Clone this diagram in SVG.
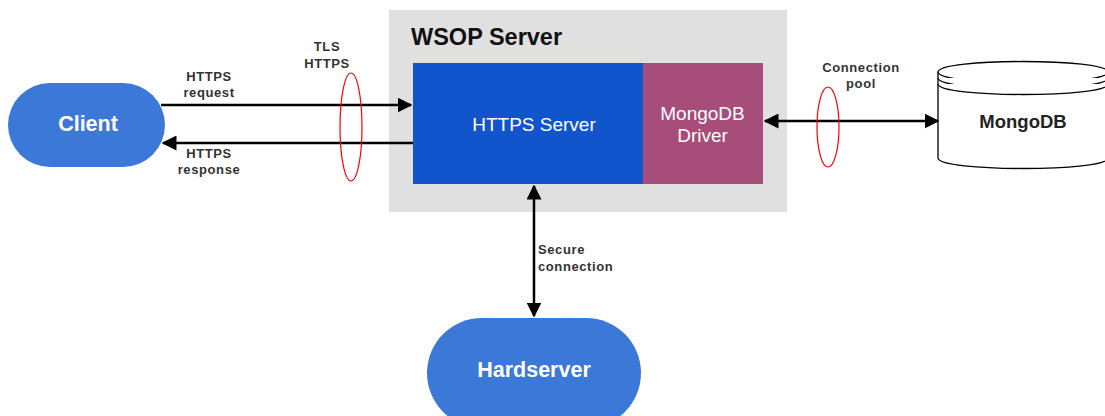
<svg xmlns="http://www.w3.org/2000/svg" width="1105" height="416" viewBox="0 0 1105 416">
<defs>
<marker id="ah" viewBox="0 0 10 10" refX="9" refY="5" markerWidth="6" markerHeight="6" orient="auto-start-reverse" markerUnits="strokeWidth">
<path d="M0,0 L10,5 L0,10 Z" fill="#000"/>
</marker>
<style>
.lbl{font-family:"Liberation Sans",Arial,sans-serif;font-size:13px;font-weight:bold;fill:#333;letter-spacing:0.6px;}
.pill{fill:#3C78D8;}
.pilltxt{font-family:"Liberation Sans",Arial,sans-serif;font-size:21.5px;font-weight:bold;fill:#fff;text-anchor:middle;}
.conn{stroke:#000;stroke-width:2.5;fill:none;}
.ring{fill:none;stroke:#FF0000;stroke-width:1.2;}
.box{font-family:"Liberation Sans",Arial,sans-serif;font-size:19px;fill:#fff;text-anchor:middle;}
.cyl{fill:#fff;stroke:#000;stroke-width:1.3;}
</style>
</defs>
<rect width="1105" height="416" fill="#fff"/>
<g id="wsop">
<rect x="389" y="10" width="398" height="202" fill="#E0E0E0"/>
<text x="411" y="45" font-family="Liberation Sans,Arial,sans-serif" font-size="23.5" font-weight="bold" fill="#111">WSOP Server</text>
</g>
<g id="https-server">
<rect x="413" y="63" width="230" height="121" fill="#1155CC"/>
<text x="534" y="131" class="box">HTTPS Server</text>
</g>
<g id="mongo-driver">
<rect x="643" y="63" width="120" height="121" fill="#A64D79"/>
<text x="702.5" y="120" class="box">MongoDB</text>
<text x="702.5" y="141.5" class="box">Driver</text>
</g>
<g id="client">
<rect x="8" y="83" width="157" height="84" rx="42" class="pill"/>
<text x="88" y="131" class="pilltxt">Client</text>
</g>
<g id="hardserver">
<rect x="427" y="318" width="214" height="110" rx="55" class="pill"/>
<text x="534" y="377" class="pilltxt">Hardserver</text>
</g>
<g id="mongodb">
<path d="M938,72 L938,158 C938,172 1108,172 1108,158 L1108,72" class="cyl"/>
<path d="M938,72 C938,58 1108,58 1108,72 C1108,86 938,86 938,72 Z" class="cyl"/>
<path d="M938,78 C938,92 1108,92 1108,78" class="cyl" fill="none"/>
<path d="M938,84 C938,98 1108,98 1108,84" class="cyl" fill="none"/>
<text x="1023" y="128" font-family="Liberation Sans,Arial,sans-serif" font-size="18.5" font-weight="bold" fill="#222" text-anchor="middle">MongoDB</text>
</g>
<g id="connectors">
<line x1="161" y1="105" x2="411" y2="105" class="conn" marker-end="url(#ah)"/>
<line x1="413" y1="143" x2="163" y2="143" class="conn" marker-end="url(#ah)"/>
<line x1="765" y1="121" x2="938" y2="121" class="conn" marker-start="url(#ah)" marker-end="url(#ah)"/>
<line x1="534" y1="186" x2="534" y2="316" class="conn" marker-start="url(#ah)" marker-end="url(#ah)"/>
<ellipse cx="351" cy="127" rx="11" ry="54" class="ring"/>
<ellipse cx="828" cy="127" rx="11" ry="40" class="ring"/>
<text class="lbl" text-anchor="middle" x="327" y="51">TLS</text>
<text class="lbl" text-anchor="middle" x="327" y="68">HTTPS</text>
<text class="lbl" text-anchor="middle" x="209" y="81">HTTPS</text>
<text class="lbl" text-anchor="middle" x="209" y="97">request</text>
<text class="lbl" text-anchor="middle" x="209" y="158">HTTPS</text>
<text class="lbl" text-anchor="middle" x="209" y="174">response</text>
<text class="lbl" text-anchor="middle" x="861" y="72">Connection</text>
<text class="lbl" text-anchor="middle" x="861" y="88">pool</text>
<text class="lbl" x="538" y="254">Secure</text>
<text class="lbl" x="538" y="271">connection</text>
</g>
</svg>
